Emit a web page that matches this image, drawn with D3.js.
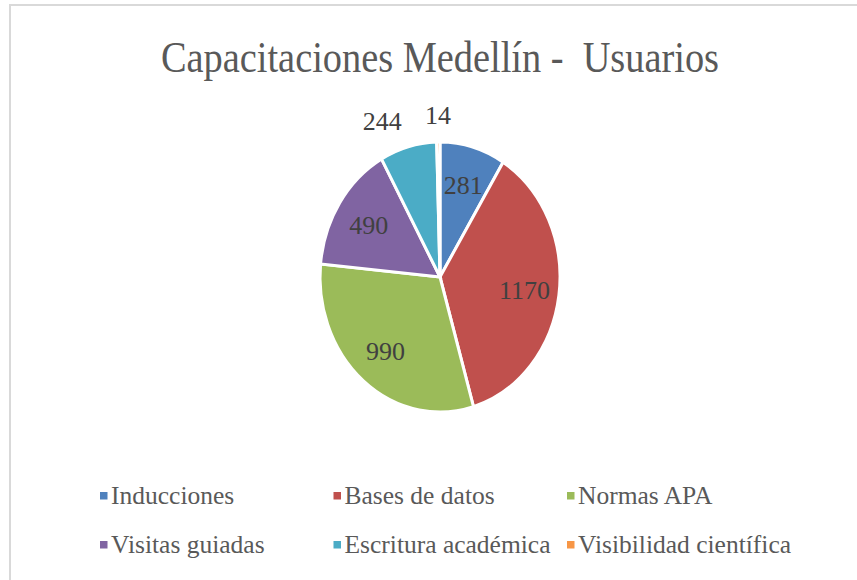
<!DOCTYPE html>
<html>
<head>
<meta charset="utf-8">
<script src="https://cdn.jsdelivr.net/npm/d3@7"></script>
<style>
  body { margin: 0; background: #fff; }
  text { font-family: "Liberation Serif", "DejaVu Serif", serif; }
</style>
</head>
<body>
<div id="chart-area"></div>
<script>
var title = "Capacitaciones Medellín -  Usuarios";
var categories = ["Inducciones", "Bases de datos", "Normas APA", "Visitas guiadas", "Escritura académica", "Visibilidad científica"];
var values = [281, 1170, 990, 490, 244, 14];
var colors = ["#4F81BD", "#C0504D", "#9BBB59", "#8064A2", "#4BACC6", "#F79646"];

var width = 857, height = 580;
var cx = 440, cy = 277;
var radius = 120;
var squash = 1.125; // picture is stretched vertically

var data = categories.map(function (c, i) {
  return { name: c, value: values[i], color: colors[i] };
});

var svg = d3
  .select("#chart-area")
  .append("svg")
  .attr("width", width)
  .attr("height", height);

// frame
svg
  .append("path")
  .attr("d", "M10," + height + " V5 H" + width)
  .attr("fill", "none")
  .attr("stroke", "#d9d9d9")
  .attr("stroke-width", 2);

svg
  .append("text")
  .attr("x", cx)
  .attr("y", 72)
  .attr("text-anchor", "middle")
  .attr("font-size", "45px")
  .attr("fill", "#595959")
  .attr("textLength", 558)
  .attr("lengthAdjust", "spacingAndGlyphs")
  .style("white-space", "pre")
  .text(title);

/*----pie---- */
var pie = d3.pie().sort(null).value(function (d) { return d.value; });
var arcs = pie(data);
var arc = d3.arc().innerRadius(0).outerRadius(radius);

var g = svg
  .append("g")
  .attr("transform", "translate(" + cx + "," + cy + ") scale(1," + squash + ")");

g.selectAll("path")
  .data(arcs)
  .enter()
  .append("path")
  .attr("d", arc)
  .attr("fill", function (d) { return d.data.color; })
  .attr("stroke", "#fff")
  .attr("stroke-width", 3)
  .attr("vector-effect", "non-scaling-stroke");

var inArc = d3.arc().innerRadius(radius * 0.71).outerRadius(radius * 0.71);
var outArc = d3.arc().innerRadius(radius * 1.2).outerRadius(radius * 1.2);

// slices too thin for an inside label
function isSmall(d) {
  return d.endAngle - d.startAngle < 0.5;
}

svg
  .selectAll(".label")
  .data(arcs)
  .enter()
  .append("text")
  .attr("class", "label")
  .attr("x", function (d) {
    var p = isSmall(d) ? outArc.centroid(d) : inArc.centroid(d);
    return cx + p[0];
  })
  .attr("y", function (d) {
    var p = isSmall(d) ? outArc.centroid(d) : inArc.centroid(d);
    return cy + p[1] * squash;
  })
  .attr("dy", "0.35em")
  .attr("text-anchor", function (d) {
    var mid = (d.startAngle + d.endAngle) / 2;
    if (isSmall(d) && Math.sin(mid) < -0.1) return "end";
    return "middle";
  })
  .attr("font-size", "26px")
  .attr("fill", "#404040")
  .text(function (d) { return d.data.value; });

/*----legend---- */
var colX = d3.scalePoint().domain([0, 1, 2]).range([100, 567]);
var rowY = d3.scalePoint().domain([0, 1]).range([504, 553]);

var legend = svg
  .selectAll(".legend")
  .data(data)
  .enter()
  .append("g")
  .attr("class", "legend")
  .attr("transform", function (d, i) {
    return "translate(" + colX(i % 3) + "," + rowY(Math.floor(i / 3)) + ")";
  });

legend
  .append("rect")
  .attr("x", 0)
  .attr("y", -12)
  .attr("width", 7.5)
  .attr("height", 7.5)
  .attr("fill", function (d) { return d.color; });

legend
  .append("text")
  .attr("x", 11)
  .attr("y", 0)
  .attr("font-size", "25.5px")
  .attr("fill", "#595959")
  .text(function (d) { return d.name; });
</script>
</body>
</html>
